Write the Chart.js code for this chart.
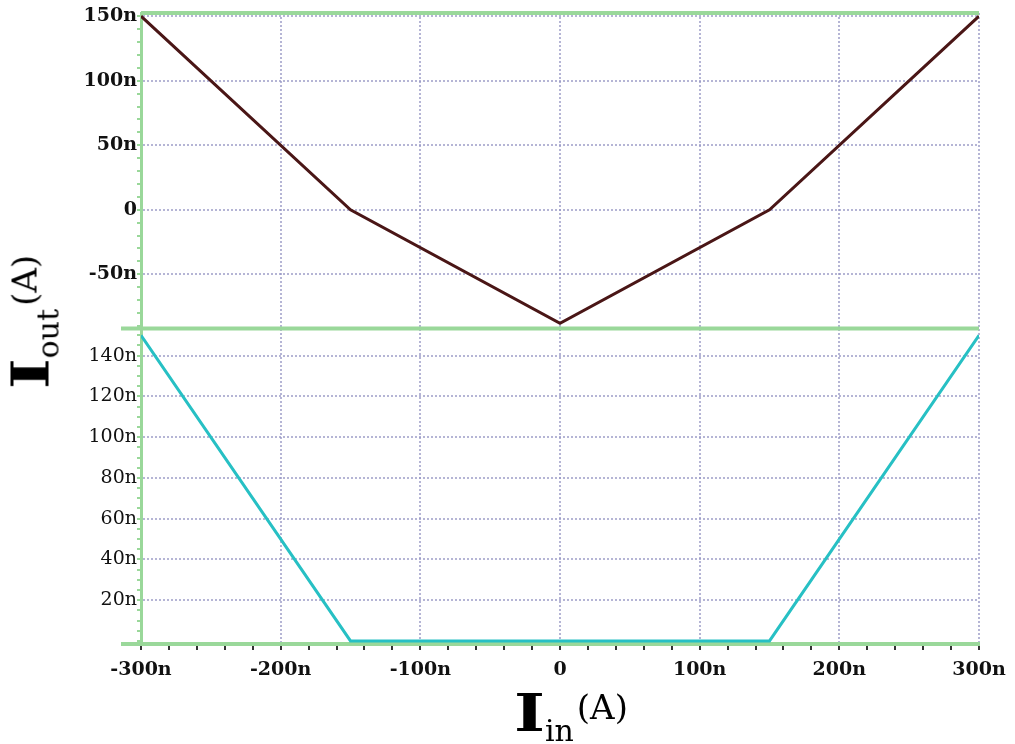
<!DOCTYPE html>
<html>
<head>
<meta charset="utf-8">
<script src="https://cdn.jsdelivr.net/npm/chart.js@4.4.1/dist/chart.umd.min.js"></script>
<style>
  body { margin: 0; background: #fff; }
  #wrap { position: relative; width: 1015px; height: 744px; }
  .ttl { position: absolute; white-space: nowrap; font-family: 'DejaVu Serif', serif; color: #000; line-height: 1; }
  .ttl .big { font-size: 53px; font-weight: bold; display: inline-block; transform: scaleX(1.25); margin: 0 3px; }
  .ttl .sub { font-size: 30px; position: relative; top: 10px; }
  .ttl .unit { font-size: 34px; position: relative; top: -12px; margin-left: 3px; }
  #xtitle { left: 571px; top: 712px; transform: translate(-50%, -50%); }
  #ytitle { left: 30px; top: 322px; transform: translate(-50%, -50%) rotate(-90deg); }
</style>
</head>
<body>
<div id="wrap">
  <canvas id="iv"></canvas>
  <div class="ttl" id="ytitle"><span class="big">I</span><span class="sub">out</span><span class="unit">(A)</span></div>
  <div class="ttl" id="xtitle"><span class="big">I</span><span class="sub">in</span><span class="unit">(A)</span></div>
</div>
<script>
// input current sweep, nA
const xLabels = [-300, -200, -100, 0, 100, 200, 300];
// top panel: Iout (nA)
const topX = [-300, -150, 0, 150, 300];
const topY = [150, 0, -88, 0, 150];
const topLabels = [150, 100, 50, 0, -50];
// bottom panel: rectified Iout (nA)
const botX = [-300, -150, 150, 300];
const botY = [150, 0, 0, 150];
const botLabels = [20, 40, 60, 80, 100, 120, 140];

const GREEN = '#9ad89a';
const GRID = 'rgba(150,150,195,0.7)';
const nano = v => v === 0 ? '0' : v + 'n';

const frameLines = {
  id: 'frameLines',
  beforeDatasetsDraw(chart) {
    const { ctx, chartArea: a, scales } = chart;
    const yT = scales.yT;
    ctx.save();
    ctx.strokeStyle = GREEN;
    ctx.lineWidth = 4;
    ctx.beginPath();
    ctx.moveTo(a.left, yT.top); ctx.lineTo(a.right, yT.top);
    ctx.moveTo(a.left - 20, yT.bottom); ctx.lineTo(a.right, yT.bottom);
    ctx.moveTo(a.left - 20, a.bottom); ctx.lineTo(a.left, a.bottom);
    ctx.stroke();
    ctx.restore();
  }
};

new Chart(document.getElementById('iv'), {
  type: 'line',
  data: {
    datasets: [{
      data: botX.map((x, i) => ({ x: x, y: botY[i] })),
      yAxisID: 'yB',
      borderColor: '#27c0c4',
      borderWidth: 3,
      pointRadius: 0
    }, {
      data: topX.map((x, i) => ({ x: x, y: topY[i] })),
      yAxisID: 'yT',
      borderColor: '#4a1616',
      borderWidth: 3,
      pointRadius: 0
    }]
  },
  options: {
    responsive: true,
    maintainAspectRatio: false,
    animation: false,
    layout: { padding: { top: 13, right: 36, left: 0, bottom: 0 } },
    plugins: { legend: { display: false }, tooltip: { enabled: false } },
    scales: {
      x: {
        type: 'linear', min: -300, max: 300,
        afterFit: s => { s.height = 100; },
        border: { color: GREEN, width: 4, dash: [2, 2] },
        grid: {
          color: c => xLabels.includes(c.tick.value) ? GRID : 'transparent',
          lineWidth: 2, tickLength: 6, tickWidth: 2, tickColor: '#333'
        },
        ticks: {
          stepSize: 20, autoSkip: false, maxRotation: 0, padding: 9, color: '#111',
          font: { family: 'DejaVu Serif', size: 19, weight: 'bold' },
          callback: v => xLabels.includes(v) ? nano(v) : ''
        }
      },
      yB: {
        type: 'linear', position: 'left', stack: 'iout', stackWeight: 1,
        min: -1.5, max: 153.3,
        afterFit: s => { s.width = 141; },
        border: { color: GREEN, width: 3, dash: [2, 2] },
        grid: {
          color: c => botLabels.includes(c.tick.value) ? GRID : 'transparent',
          lineWidth: 2, tickLength: 4, tickWidth: 2, tickColor: GREEN
        },
        ticks: {
          stepSize: 5, autoSkip: false, padding: 0, color: '#111', includeBounds: false,
          font: { family: 'DejaVu Serif', size: 19 },
          callback: v => botLabels.includes(v) ? nano(v) : ''
        }
      },
      yT: {
        type: 'linear', position: 'left', stack: 'iout', stackWeight: 1,
        min: -92, max: 152.5,
        afterFit: s => { s.width = 141; },
        border: { color: GREEN, width: 3, dash: [2, 2] },
        grid: {
          color: c => topLabels.includes(c.tick.value) ? GRID : 'transparent',
          lineWidth: 2, tickLength: 4, tickWidth: 2, tickColor: GREEN
        },
        ticks: {
          stepSize: 10, autoSkip: false, padding: 0, color: '#111', includeBounds: false,
          font: { family: 'DejaVu Serif', size: 19, weight: 'bold' },
          callback: v => topLabels.includes(v) ? nano(v) : ''
        }
      }
    }
  },
  plugins: [frameLines]
});
</script>
</body>
</html>
